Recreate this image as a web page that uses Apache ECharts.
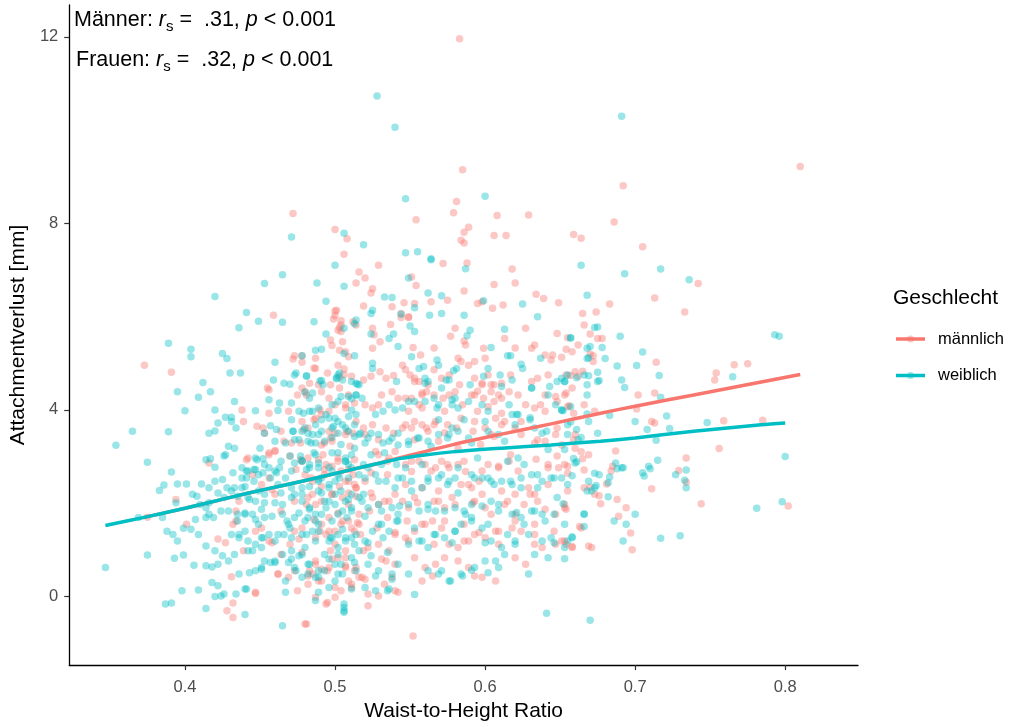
<!DOCTYPE html>
<html>
<head>
<meta charset="utf-8">
<title>Waist-to-Height Ratio und Attachmentverlust</title>
<script src="https://cdn.jsdelivr.net/npm/echarts@6/dist/echarts.min.js"></script>
<style>
  html, body { margin: 0; padding: 0; background: #ffffff; }
  #chart { width: 1013px; height: 727px; }
</style>
</head>
<body>
<div id="chart"></div>
<script>
// Waist-to-Height Ratio (x) vs. Attachmentverlust in mm (y)
const maennlich = [
  [0.583,11.96],[0.585,9.15],[0.692,8.81],[0.472,8.21],[0.581,8.47],[0.579,8.23],[0.554,8.08],[0.608,8.17],[0.629,8.18],[0.686,8.03],
  [0.500,7.87],[0.508,7.67],[0.506,7.34],[0.589,7.92],[0.586,7.81],[0.584,7.64],[0.586,7.58],[0.606,7.74],[0.614,7.74],[0.659,7.76],
  [0.664,7.68],[0.705,7.50],[0.810,9.22],[0.742,6.71],[0.713,6.40],[0.683,6.27],[0.733,6.10],[0.665,6.07],[0.674,6.10],[0.666,5.82],
  [0.670,5.63],[0.678,5.53],[0.654,5.30],[0.651,5.13],[0.670,5.20],[0.672,5.04],[0.714,5.02],[0.754,4.79],[0.753,4.64],[0.766,4.97],
  [0.775,4.99],[0.657,4.74],[0.662,4.72],[0.665,4.83],[0.654,4.36],[0.702,4.32],[0.713,4.36],[0.656,4.09],[0.659,3.93],[0.701,4.02],
  [0.759,3.77],[0.785,3.78],[0.711,3.75],[0.713,3.72],[0.660,3.47],[0.659,3.36],[0.687,3.12],[0.664,3.10],[0.756,3.17],[0.734,2.97],
  [0.665,2.95],[0.655,2.79],[0.655,2.64],[0.666,2.71],[0.685,2.79],[0.684,2.69],[0.711,2.31],[0.729,2.70],[0.734,2.45],[0.744,1.99],
  [0.802,1.94],[0.681,2.41],[0.670,2.34],[0.676,2.16],[0.677,1.99],[0.688,2.08],[0.694,1.90],[0.654,1.87],[0.689,1.72],[0.697,1.36],
  [0.663,1.50],[0.669,1.08],[0.651,1.19],[0.654,1.12],[0.658,1.07],[0.698,1.00],
  [0.516,6.96],[0.514,6.72],[0.459,6.03],[0.500,6.12],[0.500,6.02],[0.499,5.95],[0.504,5.91],[0.503,5.77],[0.504,5.68],[0.373,4.96],
  [0.391,4.81],[0.472,5.09],[0.473,5.16],[0.478,5.16],[0.486,4.90],[0.497,5.50],[0.498,5.38],[0.505,5.46],[0.503,5.28],[0.507,5.25],
  [0.509,5.14],[0.503,4.70],[0.483,4.57],[0.489,4.54],[0.497,4.54],[0.455,4.47],
  [0.438,4.00],[0.456,4.43],[0.475,4.32],[0.480,4.39],[0.469,3.97],[0.490,4.00],[0.496,3.97],[0.503,4.47],[0.509,4.32],[0.507,4.11],
  [0.513,4.15],[0.439,3.75],[0.448,3.65],[0.452,3.61],[0.456,3.93],[0.479,3.58],[0.482,3.61],[0.491,3.90],[0.486,3.79],[0.496,3.54],
  [0.500,3.50],[0.507,3.47],[0.512,3.50],[0.466,3.33],[0.471,3.29],[0.416,2.86],[0.442,2.97],[0.456,3.04],[0.460,3.13],[0.477,2.93],
  [0.482,2.97],[0.489,2.93],[0.493,2.72],[0.498,2.79],[0.504,2.69],[0.512,2.61],[0.394,2.08],[0.451,2.40],[0.458,2.29],[0.473,2.04],
  [0.482,2.12],[0.487,1.97],[0.491,2.36],[0.503,2.36],[0.509,2.22],[0.507,2.47],[0.514,2.33],[0.375,1.70],[0.401,1.55],[0.422,1.23],
  [0.427,1.15],[0.434,1.83],[0.434,1.62],[0.451,1.47],[0.456,1.19],[0.470,1.12],[0.473,1.40],[0.478,1.47],[0.491,1.55],[0.496,1.69],
  [0.496,1.40],[0.504,1.55],[0.509,1.62],[0.513,1.40],[0.516,1.76],[0.431,0.42],[0.432,-0.14],[0.428,-0.31],[0.432,-0.45],[0.447,0.06],
  [0.462,0.48],[0.469,0.41],[0.473,0.55],[0.483,0.55],[0.487,0.69],[0.491,0.58],[0.482,0.26],[0.489,0.33],[0.481,-0.59],[0.487,-0.02],
  [0.494,-0.16],[0.500,-0.02],[0.504,0.12],[0.497,0.98],[0.502,0.83],[0.507,0.98],[0.507,0.62],[0.513,0.55],[0.516,0.41],[0.511,0.26],
  [0.572,7.14],[0.588,7.15],[0.520,6.83],[0.551,6.85],[0.554,6.67],[0.606,6.69],[0.620,6.72],[0.618,7.02],[0.529,7.10],[0.524,6.51],
  [0.525,6.60],[0.519,6.23],[0.575,6.35],[0.586,6.55],[0.546,6.30],[0.553,6.28],[0.564,6.32],[0.598,6.32],[0.595,6.28],[0.605,6.18],
  [0.612,6.25],[0.634,6.48],[0.639,6.39],[0.649,6.30],[0.501,6.14],[0.538,6.21],[0.544,6.07],[0.549,6.00],[0.512,5.89],[0.514,5.82],
  [0.504,5.82],[0.502,5.71],[0.525,5.75],[0.530,5.46],[0.526,5.61],[0.525,5.32],[0.537,5.83],[0.544,5.98],[0.549,5.98],[0.552,5.34],
  [0.557,5.18],[0.566,5.33],[0.580,5.75],[0.577,5.58],[0.587,5.39],[0.586,5.48],[0.593,5.04],[0.599,5.32],[0.600,5.11],[0.613,5.53],
  [0.620,5.33],[0.627,5.75],[0.631,5.32],[0.633,5.39],[0.640,5.18],[0.644,5.07],[0.645,5.18],[0.648,5.64],[0.655,5.55],[0.662,5.39],
  [0.658,5.25],[0.672,5.16],[0.675,5.53],
  [0.478,5.02],[0.487,5.11],[0.487,4.89],[0.495,4.79],[0.502,4.96],[0.506,4.88],[0.506,4.76],[0.511,4.72],[0.519,4.64],[0.524,4.72],
  [0.530,4.82],[0.534,4.68],[0.539,4.74],[0.545,4.96],[0.547,4.86],[0.550,4.75],[0.553,4.68],[0.556,4.61],[0.562,4.54],[0.566,4.86],
  [0.571,4.68],[0.576,4.75],[0.582,5.11],[0.584,5.04],[0.589,4.96],[0.593,4.68],[0.598,4.54],[0.602,4.75],[0.606,4.54],[0.611,4.57],
  [0.617,4.75],[0.631,4.61],[0.635,4.68],[0.642,4.75],[0.654,4.75],[0.660,4.82],
  [0.478,4.47],[0.481,4.32],[0.491,4.39],[0.496,4.25],[0.500,4.11],[0.507,4.04],[0.520,4.11],[0.525,4.04],[0.529,4.11],[0.531,4.32],
  [0.538,4.39],[0.542,4.25],[0.551,4.25],[0.556,4.11],[0.558,4.32],[0.561,4.39],[0.572,4.25],[0.576,4.32],[0.580,4.39],[0.593,4.32],
  [0.599,4.25],[0.604,4.39],[0.609,4.32],[0.616,4.39],[0.627,4.11],[0.633,4.04],[0.640,3.97],[0.653,4.32],[0.658,4.47],[0.666,4.11],
  [0.673,3.97],
  [0.478,3.75],[0.487,3.82],[0.491,3.25],[0.498,3.33],[0.514,3.75],[0.519,3.61],[0.525,3.68],[0.534,3.61],[0.539,3.50],[0.545,3.61],
  [0.551,3.61],[0.558,3.68],[0.562,3.54],[0.567,3.75],[0.575,3.68],[0.581,3.61],[0.584,3.82],[0.593,3.75],[0.600,3.61],[0.607,3.82],
  [0.613,3.75],[0.620,3.61],[0.624,3.47],[0.640,3.33],[0.647,3.47],[0.651,3.25],[0.660,3.18],[0.669,3.04],
  [0.480,2.61],[0.485,2.47],[0.494,2.83],[0.502,2.90],[0.509,2.47],[0.514,2.33],[0.520,2.47],[0.529,3.04],[0.536,2.97],[0.540,3.11],
  [0.547,2.83],[0.551,2.68],[0.556,2.90],[0.560,2.83],[0.567,2.76],[0.571,2.90],[0.576,2.76],[0.582,2.83],[0.587,2.68],[0.584,2.40],
  [0.591,2.33],[0.596,2.47],[0.602,2.83],[0.609,2.76],[0.616,2.90],[0.620,2.19],[0.629,2.33],[0.633,2.19],[0.642,2.83],[0.649,2.76],
  [0.666,2.33],[0.673,2.19],
  [0.485,2.19],[0.491,2.04],[0.498,2.19],[0.505,2.12],[0.509,1.97],[0.525,2.12],[0.529,1.97],[0.536,2.04],[0.545,2.04],[0.549,1.90],
  [0.553,2.12],[0.569,2.04],[0.573,1.90],[0.578,2.12],[0.593,2.04],[0.600,1.90],[0.613,1.97],[0.620,1.76],[0.635,2.04],[0.647,1.76],
  [0.653,1.90],
  [0.487,1.26],[0.494,1.33],[0.500,1.40],[0.505,1.62],[0.511,1.47],[0.516,1.55],[0.522,1.05],[0.529,1.12],[0.536,0.98],[0.540,1.33],
  [0.547,1.26],[0.553,1.40],[0.558,1.55],[0.565,1.62],[0.571,1.47],[0.576,1.12],[0.582,1.05],[0.589,1.19],[0.593,1.33],[0.600,1.26],
  [0.607,1.40],[0.618,1.47],[0.624,1.40],[0.633,1.55],[0.638,1.05],[0.647,1.12],[0.664,1.47],[0.671,1.05],
  [0.485,0.48],[0.491,0.33],[0.496,0.62],[0.507,0.83],[0.514,0.62],[0.518,0.41],[0.534,0.76],[0.538,0.41],[0.553,0.83],[0.560,0.62],
  [0.567,0.69],[0.573,0.83],[0.582,0.76],[0.589,0.62],[0.598,0.41],[0.607,0.33],[0.620,0.83],[0.627,0.69],[0.653,1.19],[0.658,1.05],
  [0.480,-0.59],[0.495,-0.13],[0.511,0.19],[0.522,-0.20],[0.529,0.01],[0.542,0.09],[0.552,-0.85],[0.558,0.33],[0.565,0.44],[0.593,0.44],
  // dichter Kern, linke Hälfte
  [0.453,3.50],[0.464,3.54],[0.497,3.40],[0.508,3.54],[0.529,3.36],[0.477,3.29],[0.493,3.29],[0.510,3.22],[0.520,3.47],
  [0.441,2.93],[0.456,3.08],[0.460,3.11],[0.470,3.01],[0.478,2.90],[0.492,3.04],[0.502,2.97],[0.513,2.93],[0.527,3.11],[0.535,2.90],
  [0.445,2.61],[0.456,2.54],[0.474,2.72],[0.484,2.54],[0.493,2.61],[0.509,2.72],[0.513,2.40],[0.524,2.65],[0.535,2.61],
  [0.436,2.04],[0.460,2.19],[0.481,1.97],[0.498,2.19],[0.514,2.15],[0.524,2.22],[0.533,2.04],[0.540,2.19],
  [0.432,1.55],[0.464,1.83],[0.486,1.65],[0.502,1.79],[0.515,1.58],[0.523,1.83],[0.535,1.69],
  [0.447,1.40],[0.458,1.15],[0.476,1.23],[0.490,1.40],[0.500,1.12],[0.517,1.33],[0.528,1.47],[0.540,1.37],
  [0.439,0.98],[0.464,0.90],[0.478,0.94],[0.487,0.76],[0.498,0.80],[0.507,0.66],[0.519,0.98],[0.531,0.80],[0.540,0.69],
  [0.462,0.48],[0.482,0.44],[0.495,0.55],[0.509,0.33],[0.520,0.37],[0.533,0.26],[0.540,0.12],[0.447,0.09],[0.475,0.12],[0.500,0.19],
  [0.522,0.05],
  // dichter Kern, rechte Hälfte
  [0.553,4.61],[0.583,4.54],[0.598,4.57],[0.604,4.54],[0.622,4.32],[0.640,4.32],[0.647,4.29],[0.547,4.25],[0.558,4.36],[0.566,4.32],
  [0.591,4.32],[0.595,4.40],[0.606,4.18],[0.611,4.25],
  [0.549,3.97],[0.558,4.04],[0.573,3.97],[0.585,4.11],[0.595,3.97],[0.602,4.07],[0.611,3.93],[0.637,4.11],[0.648,4.18],[0.655,4.07],
  [0.547,3.68],[0.553,3.75],[0.561,3.61],[0.566,3.68],[0.573,3.51],[0.592,3.54],[0.604,3.47],[0.611,3.68],[0.624,3.75],[0.635,3.36],
  [0.648,3.61],
  [0.553,3.36],[0.569,3.33],[0.582,3.18],[0.597,3.26],[0.606,3.43],[0.617,3.04],[0.633,3.29],[0.648,3.01],
  [0.551,2.90],[0.564,2.69],[0.575,2.83],[0.586,2.90],[0.598,2.69],[0.609,2.79],[0.622,2.69],[0.634,2.94],[0.642,2.76],[0.653,2.83],
  [0.547,2.40],[0.558,2.33],[0.569,2.26],[0.589,2.40],[0.598,2.19],[0.611,2.26],[0.630,2.19],[0.642,2.40],[0.655,2.26],
  [0.555,2.01],[0.566,2.04],[0.580,1.97],[0.592,2.01],[0.604,1.76],[0.615,2.04],[0.626,1.97],[0.640,1.87],[0.653,1.97],
  [0.548,1.62],[0.560,1.55],[0.573,1.62],[0.586,1.55],[0.596,1.37],[0.609,1.40],[0.620,1.62],[0.633,1.33],[0.646,1.40],
  [0.549,1.19],[0.566,1.12],[0.586,1.19],[0.609,1.12],[0.633,1.12]
];

const weiblich = [
  [0.528,10.73],[0.540,10.06],[0.691,10.30],[0.547,8.53],[0.600,8.58],[0.471,7.71],[0.506,7.79],[0.519,7.54],[0.547,7.37],[0.555,7.39],
  [0.564,7.24],[0.664,7.10],[0.693,6.92],[0.717,7.02],[0.736,6.79],[0.668,6.46],[0.673,5.77],[0.657,5.54],[0.690,5.58],[0.793,5.61],
  [0.796,5.58],[0.668,5.32],[0.670,5.36],[0.678,5.34],[0.668,5.10],[0.680,5.10],[0.705,5.24],[0.688,4.94],[0.701,4.95],[0.765,4.71],
  [0.716,4.74],[0.653,4.61],[0.661,4.69],[0.669,4.73],[0.675,4.81],[0.676,4.63],[0.668,4.54],[0.691,4.64],[0.693,4.48],[0.668,4.32],
  [0.717,4.27],[0.652,3.98],[0.657,4.07],[0.683,3.88],[0.721,3.87],[0.748,3.73],[0.657,3.74],[0.668,3.91],[0.700,3.75],[0.708,3.58],
  [0.723,3.60],[0.714,3.35],[0.675,3.50],[0.661,3.58],[0.664,3.41],[0.800,3.00],[0.659,2.96],[0.661,2.89],[0.660,2.86],[0.715,2.92],
  [0.658,2.59],[0.687,2.86],[0.691,2.76],[0.688,2.74],[0.692,2.76],[0.709,2.79],[0.710,2.74],[0.705,2.65],[0.706,2.58],[0.734,2.71],
  [0.727,2.61],[0.733,2.49],[0.734,2.33],[0.781,1.89],[0.798,2.03],[0.673,2.64],[0.676,2.61],[0.683,2.56],[0.682,2.44],[0.668,2.26],
  [0.674,2.38],[0.682,2.14],[0.652,1.99],[0.666,1.77],[0.700,1.76],[0.686,1.62],[0.694,1.55],[0.666,1.50],[0.658,1.28],[0.692,1.19],
  [0.717,1.25],[0.730,1.30],[0.670,-0.51],[0.653,0.81],
  [0.500,7.10],[0.465,6.90],[0.453,6.71],[0.488,6.72],[0.506,6.65],[0.420,6.43],[0.494,6.33],[0.441,6.09],[0.449,5.90],[0.465,5.88],
  [0.486,5.89],[0.436,5.76],[0.513,5.85],[0.514,5.93],[0.494,5.63],[0.389,5.43],[0.404,5.30],[0.404,5.14],[0.425,5.21],[0.428,5.10],
  [0.412,4.59],[0.430,4.79],[0.437,4.79],[0.460,5.02],[0.473,4.75],[0.474,4.79],[0.481,4.72],[0.487,5.28],[0.491,5.30],[0.506,5.21],
  [0.513,5.16],[0.459,4.64],[0.491,4.63],[0.501,4.67],[0.503,4.79],[0.511,4.61],[0.515,4.55],[0.466,4.57],[0.470,4.55],
  [0.395,4.39],[0.417,4.39],[0.409,4.27],[0.400,3.98],[0.420,4.00],[0.433,4.18],[0.447,3.98],[0.456,4.22],[0.463,4.15],[0.462,3.99],
  [0.471,4.15],[0.476,3.97],[0.479,3.93],[0.483,3.97],[0.485,4.36],[0.492,4.54],[0.504,4.29],[0.511,4.24],[0.514,4.32],[0.511,4.00],
  [0.509,3.86],[0.514,3.90],[0.365,3.54],[0.354,3.24],[0.389,3.53],[0.416,3.50],[0.420,3.55],[0.422,3.72],[0.427,3.84],[0.431,3.84],
  [0.431,3.75],[0.434,3.61],[0.457,3.66],[0.453,3.50],[0.461,3.58],[0.471,3.79],[0.472,3.54],[0.476,3.36],[0.478,3.54],[0.487,3.68],
  [0.491,3.79],[0.496,3.82],[0.499,3.65],[0.502,3.75],[0.507,3.61],[0.513,3.68],[0.517,3.50],[0.482,3.33],[0.487,3.29],[0.493,3.33],
  [0.498,3.41],[0.460,3.33],
  [0.375,2.88],[0.427,3.04],[0.426,3.01],[0.429,3.22],[0.433,3.18],[0.414,2.93],[0.417,2.95],[0.420,2.77],[0.450,3.18],[0.447,2.97],
  [0.452,2.95],[0.438,2.76],[0.442,2.69],[0.446,2.72],[0.456,2.76],[0.460,2.69],[0.463,2.76],[0.470,3.01],[0.473,2.86],[0.478,2.91],
  [0.483,2.83],[0.489,2.76],[0.496,2.77],[0.502,3.08],[0.507,2.97],[0.511,3.04],[0.513,3.18],[0.502,2.61],[0.509,2.54],
  [0.383,2.27],[0.386,2.39],[0.391,2.67],[0.395,2.41],[0.401,2.41],[0.394,2.01],[0.405,2.19],[0.408,2.15],[0.411,2.41],[0.416,2.33],
  [0.410,1.97],[0.414,1.90],[0.416,2.01],[0.420,2.47],[0.425,2.51],[0.428,2.33],[0.422,2.22],[0.426,2.12],[0.431,2.26],[0.435,2.15],
  [0.438,2.33],[0.441,2.54],[0.446,2.47],[0.449,2.61],[0.442,2.12],[0.447,2.04],[0.453,2.19],[0.457,2.54],[0.462,2.40],[0.467,2.54],
  [0.460,2.01],[0.465,1.97],[0.471,2.33],[0.473,2.19],[0.478,2.33],[0.483,2.36],[0.489,2.47],[0.496,2.40],[0.491,2.22],[0.496,2.04],
  [0.500,2.19],[0.507,2.04],[0.511,1.90],[0.516,2.12],
  [0.369,1.69],[0.385,1.69],[0.388,1.40],[0.392,1.33],[0.395,1.19],[0.399,1.46],[0.404,1.44],[0.407,1.65],[0.414,1.69],[0.409,1.33],
  [0.416,1.76],[0.419,1.69],[0.424,1.83],[0.429,1.83],[0.435,1.62],[0.440,1.76],[0.431,1.33],[0.436,1.26],[0.440,1.40],[0.445,1.76],
  [0.449,1.55],[0.453,1.69],[0.451,1.26],[0.456,1.33],[0.460,1.19],[0.465,1.76],[0.469,1.55],[0.473,1.69],[0.466,1.33],[0.471,1.26],
  [0.478,1.33],[0.482,1.69],[0.487,1.62],[0.489,1.40],[0.498,1.26],[0.502,1.33],[0.507,1.19],[0.502,1.76],[0.511,1.83],
  [0.375,0.89],[0.393,0.82],[0.399,0.89],[0.406,0.67],[0.414,0.66],[0.418,0.63],[0.422,0.69],[0.414,1.08],[0.420,0.98],[0.425,0.87],
  [0.429,0.76],[0.418,0.30],[0.422,0.23],[0.398,0.12],[0.409,0.14],[0.420,0.00],[0.424,0.01],[0.426,0.05],[0.434,0.05],[0.387,-0.16],
  [0.391,-0.14],[0.414,-0.26],[0.440,-0.39],[0.441,0.16],[0.447,0.55],[0.451,0.62],[0.457,0.73],[0.442,0.98],[0.447,1.12],[0.451,1.05],
  [0.460,0.76],[0.465,0.90],[0.469,0.73],[0.473,0.62],[0.478,0.41],[0.482,0.48],[0.471,0.98],[0.476,0.87],[0.480,1.05],[0.487,0.41],
  [0.493,0.55],[0.465,-0.63],[0.496,0.19],[0.500,0.33],[0.496,0.80],[0.504,0.69],[0.511,0.83],[0.506,-0.16],[0.506,-0.31],[0.513,1.12],
  [0.516,0.98],[0.347,0.62],
  [0.564,7.22],[0.587,7.03],[0.549,6.83],[0.562,6.51],[0.533,6.42],[0.538,6.41],[0.571,6.45],[0.553,6.19],[0.563,6.03],[0.571,6.07],
  [0.599,6.34],[0.625,6.27],[0.586,6.03],[0.544,6.05],[0.525,6.14],[0.524,6.07],[0.506,5.75],[0.536,5.53],[0.539,5.63],[0.542,5.36],
  [0.524,5.63],[0.550,5.80],[0.553,5.68],[0.551,5.14],[0.590,5.71],[0.588,5.59],[0.604,5.34],[0.613,5.73],[0.615,5.16],[0.617,5.16],
  [0.635,6.00],[0.637,5.11],[0.624,4.98],[0.657,5.55],[0.669,5.12],[0.675,5.78],
  [0.478,5.16],[0.481,4.73],[0.490,4.62],[0.501,4.69],[0.502,4.75],[0.505,4.64],[0.514,4.57],[0.516,4.54],[0.525,4.89],[0.525,5.00],
  [0.541,4.61],[0.556,4.89],[0.559,4.93],[0.560,4.68],[0.562,4.61],[0.568,5.07],[0.569,4.96],[0.576,4.64],[0.579,4.84],[0.581,4.89],
  [0.599,4.72],[0.602,4.89],[0.610,4.75],[0.618,4.64],[0.625,4.89],[0.648,4.61],[0.651,4.68],[0.655,4.75],[0.666,4.75],[0.675,4.61],
  [0.480,4.38],[0.483,4.25],[0.485,3.97],[0.489,4.04],[0.494,3.90],[0.498,4.11],[0.502,4.18],[0.509,4.29],[0.514,4.32],[0.518,4.25],
  [0.527,3.90],[0.532,3.97],[0.536,4.11],[0.540,4.00],[0.545,4.04],[0.549,4.18],[0.560,4.18],[0.566,4.25],[0.568,4.04],[0.578,4.11],
  [0.582,4.04],[0.589,4.18],[0.598,4.11],[0.602,3.97],[0.616,4.11],[0.622,3.90],[0.631,4.47],[0.642,4.32],[0.647,4.11],[0.651,4.00],
  [0.669,3.75],
  [0.480,3.61],[0.485,3.47],[0.491,3.54],[0.498,3.61],[0.500,3.82],[0.505,3.68],[0.509,3.54],[0.516,3.47],[0.522,3.40],[0.529,3.47],
  [0.536,3.33],[0.542,3.25],[0.549,3.33],[0.556,3.40],[0.562,3.33],[0.569,3.47],[0.576,3.47],[0.582,3.54],[0.589,3.40],[0.602,3.54],
  [0.609,3.47],[0.618,3.90],[0.633,3.61],[0.638,3.50],[0.655,3.47],[0.662,3.36],
  [0.478,2.90],[0.483,2.76],[0.487,3.04],[0.491,2.54],[0.496,2.33],[0.500,2.47],[0.507,2.90],[0.511,2.76],[0.516,2.61],[0.522,2.76],
  [0.527,2.61],[0.531,2.83],[0.534,2.47],[0.540,2.33],[0.545,2.54],[0.551,2.47],[0.558,2.33],[0.562,2.54],[0.571,2.61],[0.576,2.47],
  [0.580,2.54],[0.591,2.61],[0.598,2.54],[0.604,2.47],[0.611,2.47],[0.618,2.40],[0.624,2.54],[0.631,2.61],[0.638,2.47],[0.644,2.54],
  [0.651,2.54],[0.655,2.40],[0.669,2.47],[0.673,2.33],
  [0.478,2.04],[0.483,1.90],[0.487,1.76],[0.494,1.90],[0.500,1.97],[0.505,1.83],[0.511,2.19],[0.518,2.04],[0.522,1.90],[0.531,1.83],
  [0.538,1.90],[0.542,1.76],[0.556,1.83],[0.562,1.97],[0.567,1.83],[0.580,1.90],[0.587,1.76],[0.591,1.97],[0.604,2.04],[0.609,1.83],
  [0.618,1.76],[0.624,1.69],[0.631,1.83],[0.638,1.76],
  [0.480,1.62],[0.485,1.40],[0.489,1.55],[0.496,1.19],[0.502,1.05],[0.507,1.26],[0.514,1.33],[0.520,1.19],[0.525,1.40],[0.531,1.55],
  [0.536,1.40],[0.542,1.62],[0.549,1.12],[0.556,1.19],[0.562,1.05],[0.567,1.33],[0.573,1.26],[0.580,1.40],[0.584,1.55],[0.591,1.62],
  [0.598,1.47],[0.604,1.19],[0.611,1.05],[0.620,1.12],[0.629,1.33],[0.638,1.19],[0.644,1.26],[0.653,1.05],[0.658,1.26],
  [0.478,0.90],[0.483,0.69],[0.489,0.55],[0.500,0.69],[0.505,0.48],[0.522,0.69],[0.529,0.55],[0.542,0.69],[0.549,0.48],[0.562,0.55],
  [0.569,0.48],[0.576,0.33],[0.584,0.48],[0.593,0.62],[0.600,0.76],[0.607,0.76],[0.613,0.90],[0.629,0.48],[0.633,0.90],[0.642,0.83],
  [0.666,1.76],[0.671,2.26],
  [0.487,-0.09],[0.506,-0.24],[0.506,-0.34],[0.520,0.19],[0.527,0.12],[0.536,0.16],[0.538,0.37],[0.553,0.04],[0.571,0.55],[0.577,0.33],
  [0.585,0.44],[0.591,0.56],[0.641,-0.36],[0.602,0.51],[0.609,0.62],
  // dichter Kern, linke Hälfte
  [0.472,3.54],[0.482,3.50],[0.489,3.47],[0.502,3.50],[0.513,3.43],[0.520,3.29],[0.524,3.50],[0.532,3.29],[0.538,3.40],[0.542,3.50],
  [0.467,3.29],[0.473,3.36],[0.484,3.29],[0.504,3.26],
  [0.448,2.93],[0.453,2.83],[0.464,2.90],[0.477,3.01],[0.486,3.08],[0.489,2.86],[0.498,3.08],[0.507,2.90],[0.509,2.83],[0.519,2.83],
  [0.524,3.04],[0.533,3.08],[0.541,2.83],
  [0.432,2.65],[0.438,2.54],[0.441,2.69],[0.447,2.72],[0.452,2.65],[0.461,2.65],[0.471,2.69],[0.481,2.72],[0.489,2.51],[0.498,2.69],
  [0.503,2.54],[0.520,2.54],[0.529,2.47],[0.542,2.54],
  [0.433,2.33],[0.440,2.36],[0.443,2.08],[0.449,2.26],[0.453,2.01],[0.464,2.22],[0.471,2.12],[0.478,2.19],[0.489,2.26],[0.493,2.04],
  [0.504,2.26],[0.509,2.08],[0.519,2.19],[0.529,1.97],[0.543,1.94],
  [0.435,1.76],[0.440,1.79],[0.447,1.65],[0.451,1.87],[0.458,1.72],[0.468,1.62],[0.476,1.79],[0.483,1.87],[0.491,1.76],[0.498,1.62],
  [0.508,1.69],[0.520,1.72],[0.529,1.55],[0.541,1.62],
  [0.436,1.33],[0.442,1.19],[0.452,1.26],[0.462,1.33],[0.470,1.47],[0.481,1.33],[0.487,1.19],[0.497,1.26],[0.505,1.44],[0.511,1.26],
  [0.522,1.15],[0.532,1.26],
  [0.433,0.90],[0.445,0.98],[0.453,0.76],[0.460,0.73],[0.471,0.80],[0.482,0.69],[0.493,0.90],[0.502,0.90],[0.513,0.73],[0.524,0.87],
  [0.535,0.94],
  [0.436,0.48],[0.443,0.51],[0.451,0.58],[0.467,0.33],[0.474,0.55],[0.489,0.41],[0.502,0.48],[0.514,0.55],[0.527,0.44],[0.538,0.48],
  [0.440,0.16],[0.467,0.09],[0.489,0.09],[0.511,0.16],[0.535,0.12],
  // dichter Kern, rechte Hälfte
  [0.560,4.57],[0.574,4.64],[0.590,4.54],[0.611,4.50],[0.631,4.47],[0.643,4.50],[0.653,4.61],[0.571,4.47],[0.580,4.25],
  [0.553,4.18],[0.569,4.11],[0.578,4.22],[0.621,3.90],[0.630,3.83],[0.651,4.00],
  [0.555,3.40],[0.569,3.79],[0.578,3.61],[0.586,3.79],[0.600,3.75],[0.620,3.68],[0.630,3.79],[0.641,3.54],[0.655,3.68],
  [0.549,3.26],[0.564,3.22],[0.575,3.40],[0.591,3.29],[0.613,3.33],[0.622,2.97],[0.642,3.15],[0.653,3.15],
  [0.547,2.76],[0.558,2.83],[0.569,2.54],[0.582,2.76],[0.595,2.97],[0.602,2.54],[0.615,2.90],[0.626,2.83],[0.635,2.61],[0.646,2.54],
  [0.551,2.26],[0.562,2.47],[0.575,2.40],[0.582,2.22],[0.593,2.54],[0.606,2.40],[0.617,2.47],[0.624,2.33],[0.635,2.33],[0.648,2.12],
  [0.549,1.97],[0.562,1.87],[0.573,1.83],[0.586,1.83],[0.598,1.94],[0.609,1.97],[0.621,1.80],[0.633,1.83],[0.646,1.76],
  [0.553,1.47],[0.566,1.33],[0.580,1.40],[0.591,1.69],[0.602,1.55],[0.615,1.33],[0.626,1.55],[0.640,1.62],[0.653,1.55],
  [0.558,1.19],[0.578,1.15],[0.600,1.15],[0.620,1.19],[0.646,1.15],[0.655,1.19]
];

// LOESS fits per group
const glattMaennlich = [
  [0.372,1.69],[0.400,1.89],[0.431,2.13],[0.451,2.28],[0.478,2.47],[0.511,2.72],[0.530,2.86],[0.544,2.98],
  [0.578,3.25],[0.611,3.48],[0.644,3.70],[0.677,3.93],[0.700,4.08],[0.739,4.32],[0.784,4.60],[0.810,4.76]
];
const glattWeiblich = [
  [0.347,1.52],[0.372,1.69],[0.400,1.89],[0.431,2.13],[0.451,2.28],[0.478,2.47],[0.511,2.72],[0.530,2.86],
  [0.544,2.96],[0.561,3.04],[0.578,3.10],[0.611,3.18],[0.644,3.25],[0.677,3.33],[0.700,3.40],[0.739,3.54],
  [0.784,3.68],[0.800,3.72]
];

const xTicks = [0.4, 0.5, 0.6, 0.7, 0.8];
const yTicks = [0, 4, 8, 12];
const gruppen = ['männlich', 'weiblich'];
const farben = ['#F8766D', '#00BFC4'];
const statistik = [
  { label: 'Männer', r: '.31', p: '0.001' },
  { label: 'Frauen', r: '.32', p: '0.001' }
];

const FONT = 'Liberation Sans, Arial, sans-serif';
const chart = echarts.init(document.getElementById('chart'));

function statText(s) {
  return '{n|' + s.label + ': }{i|r}{sub|s}{n| =  ' + s.r + ', }{i|p}{n| < ' + s.p + '}';
}
const richStat = {
  n: { fontSize: 21.5, fontFamily: FONT, fill: '#000', lineHeight: 28 },
  i: { fontSize: 21.5, fontFamily: FONT, fontStyle: 'italic', fill: '#000', lineHeight: 28 },
  sub: { fontSize: 15, fontFamily: FONT, fill: '#000', lineHeight: 15, verticalAlign: 'bottom' }
};

const legendGraphics = [
  { type: 'text', left: 893, top: 288,
    style: { text: 'Geschlecht', fontSize: 21, fontFamily: FONT, fill: '#000' } }
];
gruppen.forEach(function (g, k) {
  const yy = 339 + k * 36.5;
  legendGraphics.push(
    { type: 'line', shape: { x1: 896, y1: yy, x2: 925, y2: yy },
      style: { stroke: farben[k], lineWidth: 3.5 } },
    { type: 'circle', shape: { cx: 910.5, cy: yy, r: 3.5 },
      style: { fill: farben[k], opacity: 0.4 } },
    { type: 'text', x: 938, y: yy,
      style: { text: g, fontSize: 16.5, fontFamily: FONT, fill: '#000', verticalAlign: 'middle' } }
  );
});

chart.setOption({
  backgroundColor: '#ffffff',
  animation: false,
  grid: { left: 67, top: 5, width: 791, height: 663, containLabel: false },
  xAxis: {
    type: 'value',
    min: 0.3229, max: 0.8485,
    name: 'Waist-to-Height Ratio',
    nameLocation: 'middle', nameGap: 35,
    nameTextStyle: { fontSize: 21, fontFamily: FONT, color: '#000' },
    axisLine: { show: true, onZero: false, lineStyle: { color: '#000', width: 1.3 } },
    axisTick: { show: true, length: 5, lineStyle: { color: '#333', width: 1.2 }, customValues: xTicks },
    axisLabel: { fontSize: 16.5, fontFamily: FONT, color: '#4D4D4D', margin: 14, customValues: xTicks,
      formatter: function (v) { return v.toFixed(1); } },
    splitLine: { show: false }
  },
  yAxis: {
    type: 'value',
    min: -1.473, max: 12.684,
    name: 'Attachmentverlust [mm]',
    nameLocation: 'middle', nameGap: 35, nameRotate: 90,
    nameTextStyle: { fontSize: 21, fontFamily: FONT, color: '#000' },
    axisLine: { show: true, onZero: false, lineStyle: { color: '#000', width: 1.3 } },
    axisTick: { show: true, length: 5, lineStyle: { color: '#333', width: 1.2 }, customValues: yTicks },
    axisLabel: { fontSize: 16.5, fontFamily: FONT, color: '#4D4D4D', margin: 11, customValues: yTicks },
    splitLine: { show: false }
  },
  series: [
    { name: gruppen[0], type: 'scatter', data: maennlich, symbolSize: 7.5,
      itemStyle: { color: farben[0], opacity: 0.4 }, z: 2 },
    { name: gruppen[1], type: 'scatter', data: weiblich, symbolSize: 7.5,
      itemStyle: { color: farben[1], opacity: 0.4 }, z: 2 },
    { name: gruppen[0] + ' (LOESS)', type: 'line', data: glattMaennlich, smooth: 0.3, showSymbol: false,
      lineStyle: { color: farben[0], width: 3.5 }, z: 3 },
    { name: gruppen[1] + ' (LOESS)', type: 'line', data: glattWeiblich, smooth: 0.3, showSymbol: false,
      lineStyle: { color: farben[1], width: 3.5 }, z: 4 }
  ],
  graphic: [
    { type: 'text', left: 74, top: 9, style: { text: statText(statistik[0]), rich: richStat } },
    { type: 'text', left: 76, top: 49, style: { text: statText(statistik[1]), rich: richStat } }
  ].concat(legendGraphics)
});
</script>
</body>
</html>
